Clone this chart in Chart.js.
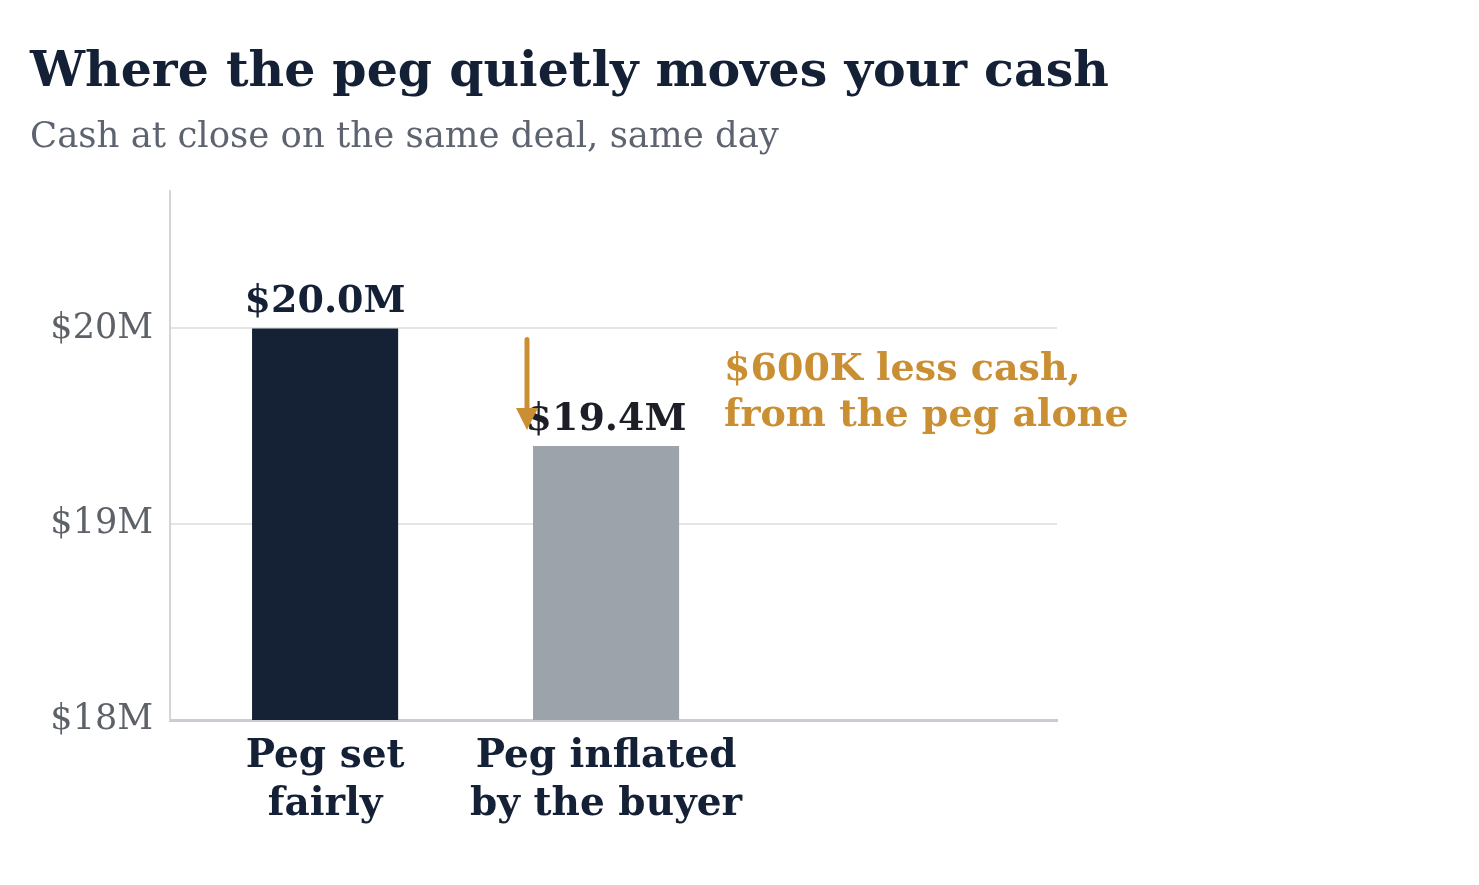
<!DOCTYPE html>
<html>
<head>
<meta charset="utf-8">
<script src="https://cdn.jsdelivr.net/npm/chart.js@4"></script>
<style>
  html, body { margin: 0; padding: 0; background: #ffffff; }
  #wrap { width: 1479px; height: 885px; position: relative; }
</style>
</head>
<body>
<div id="wrap"><canvas id="pegChart"></canvas></div>
<script>
// chart values
const categories = [["Peg set", "fairly"], ["Peg inflated", "by the buyer"]];
const cashAtClose = [20.0, 19.4]; // $M
const valueLabels = ["$20.0M", "$19.4M"];
const yTickValues = [18, 19, 20];
const noteLines = ["$600K less cash,", "from the peg alone"];

const SERIF = "Georgia, 'DejaVu Serif', serif";
const NAVY = "#142035";
const GOLD = "#c98f32";

// value labels over the bars, plus the gold arrow and note
const annotatePlugin = {
  id: "annotate",
  afterDatasetsDraw(chart) {
    const ctx = chart.ctx;
    const bars = chart.getDatasetMeta(0).data;
    ctx.save();

    ctx.font = "bold 38px " + SERIF;
    ctx.textAlign = "center";
    ctx.textBaseline = "alphabetic";
    bars.forEach((bar, i) => {
      ctx.fillStyle = i === 0 ? NAVY : "#1c1f26";
      ctx.fillText(valueLabels[i], bar.x, bar.y - 16);
    });

    // arrow from the fair level down to the inflated one
    const b0 = bars[0], b1 = bars[1];
    const ax = b1.x - b1.width / 2 - 6;
    const yStart = b0.y + 11;
    const yTip = b1.y - 16;
    ctx.strokeStyle = GOLD;
    ctx.fillStyle = GOLD;
    ctx.lineWidth = 5;
    ctx.lineCap = "round";
    ctx.beginPath();
    ctx.moveTo(ax, yStart);
    ctx.lineTo(ax, yTip - 18);
    ctx.stroke();
    ctx.beginPath();
    ctx.moveTo(ax - 11, yTip - 22);
    ctx.lineTo(ax + 11, yTip - 22);
    ctx.lineTo(ax, yTip);
    ctx.closePath();
    ctx.fill();

    ctx.font = "bold 38px " + SERIF;
    ctx.textAlign = "left";
    const nx = b1.x + b1.width / 2 + 45;
    ctx.fillText(noteLines[0], nx, b1.y - 66);
    ctx.fillText(noteLines[1], nx, b1.y - 20);
    ctx.restore();
  }
};

const ctx = document.getElementById("pegChart").getContext("2d");
new Chart(ctx, {
  type: "bar",
  data: {
    datasets: [{
      data: cashAtClose.map((v, i) => ({ x: i, y: v })),
      backgroundColor: ["#152235", "#9ca3ab"],
      borderWidth: 0,
      barPercentage: 0.52,
      categoryPercentage: 1
    }]
  },
  options: {
    responsive: true,
    maintainAspectRatio: false,
    animation: false,
    layout: { padding: { left: 30, right: 0, top: 0, bottom: 30 } },
    plugins: {
      legend: { display: false },
      tooltip: { enabled: false },
      title: {
        display: true,
        text: "Where the peg quietly moves your cash",
        align: "start",
        color: NAVY,
        font: { family: SERIF, size: 49, weight: "bold" },
        padding: { top: 44, bottom: 4 }
      },
      subtitle: {
        display: true,
        text: "Cash at close on the same deal, same day",
        align: "start",
        color: "#5d6470",
        font: { family: SERIF, size: 35.5 },
        padding: { top: 10, bottom: 32 }
      }
    },
    scales: {
      x: {
        type: "linear",
        offset: false,
        min: -0.552,
        max: 2.605,
        afterBuildTicks: (scale) => { scale.ticks = categories.map((c, i) => ({ value: i })); },
        afterFit: (scale) => { scale.height = 135; },
        ticks: {
          autoSkip: false,
          maxRotation: 0,
          padding: 12,
          color: NAVY,
          font: { family: SERIF, size: 39, weight: "bold", lineHeight: 1.25 },
          callback: (v) => categories[v]
        },
        grid: { display: false, drawTicks: false, offset: false },
        border: { color: "#c9ccd2", width: 3 }
      },
      y: {
        min: 18,
        max: 20.7,
        afterBuildTicks: (scale) => { scale.ticks = yTickValues.map(v => ({ value: v })); },
        afterFit: (scale) => { scale.width = 140; },
        ticks: {
          padding: 17,
          color: "#5d6168",
          font: { family: SERIF, size: 35 },
          callback: (v) => "$" + v + "M"
        },
        grid: { color: "#e4e5e8", lineWidth: 2, drawTicks: false },
        border: { color: "#d2d5da", width: 2 }
      },
      // empty right-hand box that keeps the plot narrow while the title spans the page
      spacer: {
        type: "linear",
        position: "right",
        afterFit: (scale) => { scale.width = 422; },
        ticks: { display: false },
        grid: { display: false, drawTicks: false },
        border: { display: false }
      }
    }
  },
  plugins: [annotatePlugin]
});
</script>
</body>
</html>
